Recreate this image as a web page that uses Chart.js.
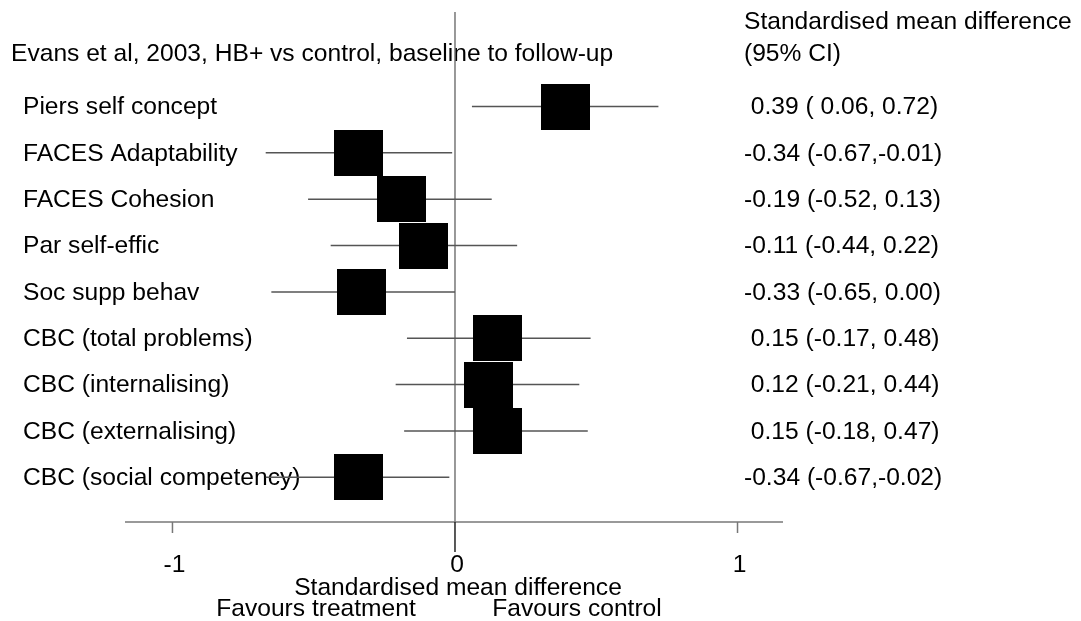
<!DOCTYPE html>
<html>
<head>
<meta charset="utf-8">
<title>Forest plot</title>
<script src="https://cdn.jsdelivr.net/npm/chart.js@4.4.1/dist/chart.umd.min.js"></script>
<style>
  html, body { margin: 0; padding: 0; background: #fff; }
  #wrap { width: 1081px; height: 621px; }
</style>
</head>
<body>
<div id="wrap"><canvas id="forest" width="1081" height="621"></canvas></div>
<script>
// Data
const outcomes = [
  "Piers self concept",
  "FACES Adaptability",
  "FACES Cohesion",
  "Par self-effic",
  "Soc supp behav",
  "CBC (total problems)",
  "CBC (internalising)",
  "CBC (externalising)",
  "CBC (social competency)",
];
const smd = [0.39, -0.34, -0.19, -0.11, -0.33, 0.15, 0.12, 0.15, -0.34];
const ciLow = [0.06, -0.67, -0.52, -0.44, -0.65, -0.17, -0.21, -0.18, -0.67];
const ciHigh = [0.72, -0.01, 0.13, 0.22, 0.0, 0.48, 0.44, 0.47, -0.02];

const xTicks = [-1, 0, 1];
const xTickLabels = ["-1", "0", "1"];

const studyTitle = "Evans et al, 2003, HB+ vs control, baseline to follow-up";
const estHeader = ["Standardised mean difference", "(95% CI)"];
const xTitle = "Standardised mean difference";
const favoursLabels = ["Favours treatment", "Favours control"];

const FONT = "24.6px 'Liberation Sans', Arial, Helvetica, sans-serif";

// " 0.39" style numbers, as printed next to the plot
function fmt(v) {
  return (v < 0 ? "-" : " ") + Math.abs(v).toFixed(2);
}
function ciText(i) {
  return fmt(smd[i]) + " (" + fmt(ciLow[i]) + "," + fmt(ciHigh[i]) + ")";
}

// Black box marker used as point style
function makeBox(w, h) {
  const c = document.createElement("canvas");
  c.width = w;
  c.height = h;
  const g = c.getContext("2d");
  g.fillStyle = "#000";
  g.fillRect(0, 0, w, h);
  return c;
}
const box = makeBox(49, 46);

// One short line dataset per outcome for the CI whiskers
const ciDatasets = outcomes.map((name, i) => ({
  type: "line",
  label: name + " CI",
  data: [
    { x: ciLow[i], y: i + 1 },
    { x: ciHigh[i], y: i + 1 },
  ],
  borderColor: "#555",
  borderWidth: 1.5,
  pointRadius: 0,
  order: 2,
}));

// small radius so the chart area is not shrunk for "overflow";
// the image point style is drawn at its own size anyway
const boxDataset = {
  type: "scatter",
  label: "SMD",
  data: smd.map((v, i) => ({ x: v, y: i + 1 })),
  pointStyle: box,
  pointRadius: 1,
  order: 1,
};

function strokeLine(ctx, x1, y1, x2, y2) {
  ctx.beginPath();
  ctx.moveTo(x1, y1);
  ctx.lineTo(x2, y2);
  ctx.stroke();
}

// Texts, zero line and the bottom axis, placed with the chart scales
const forestDecor = {
  id: "forestDecor",
  beforeDatasetsDraw(chart) {
    const { ctx, chartArea, scales } = chart;
    const x = scales.x;
    const y = scales.y;
    ctx.save();
    ctx.font = FONT;
    ctx.fillStyle = "#000";
    ctx.textBaseline = "middle";
    ctx.textAlign = "left";

    ctx.fillText(studyTitle, 11, 54);
    ctx.fillText(estHeader[0], 744, 22);
    ctx.fillText(estHeader[1], 744, 54);

    outcomes.forEach((name, i) => {
      const py = y.getPixelForValue(i + 1);
      ctx.fillText(name, 23, py + 1);
      ctx.fillText(ciText(i), 744, py + 1);
    });

    const x0 = x.getPixelForValue(0);
    const axisY = 522;

    // line of no effect
    ctx.strokeStyle = "#777";
    ctx.lineWidth = 1.5;
    strokeLine(ctx, x0, 12, x0, axisY);

    // x axis
    strokeLine(ctx, x.getPixelForValue(x.min), axisY, x.getPixelForValue(x.max), axisY);
    xTicks.forEach((t) => {
      const px = x.getPixelForValue(t);
      if (t === 0) {
        ctx.strokeStyle = "#222";
        strokeLine(ctx, px, axisY, px, axisY + 30);
      } else {
        ctx.strokeStyle = "#777";
        strokeLine(ctx, px, axisY, px, axisY + 11);
      }
    });

    ctx.textAlign = "center";
    xTicks.forEach((t, i) => {
      ctx.fillText(xTickLabels[i], x.getPixelForValue(t) + 2, axisY + 43);
    });
    ctx.fillText(xTitle, x0 + 3, axisY + 66);
    ctx.fillText(favoursLabels[0], x0 - 139, axisY + 87);
    ctx.fillText(favoursLabels[1], x0 + 122, axisY + 87);
    ctx.restore();
  },
};

const ctx = document.getElementById("forest").getContext("2d");
new Chart(ctx, {
  data: { datasets: [boxDataset, ...ciDatasets] },
  options: {
    responsive: false,
    animation: false,
    layout: { padding: { left: 125, right: 298, top: 12, bottom: 99 } },
    plugins: {
      legend: { display: false },
      tooltip: { enabled: false },
    },
    scales: {
      x: { type: "linear", display: false, min: -1.168, max: 1.161 },
      y: { type: "linear", display: false, reverse: true, min: -1.039, max: 9.964 },
    },
  },
  plugins: [forestDecor],
});
</script>
</body>
</html>
